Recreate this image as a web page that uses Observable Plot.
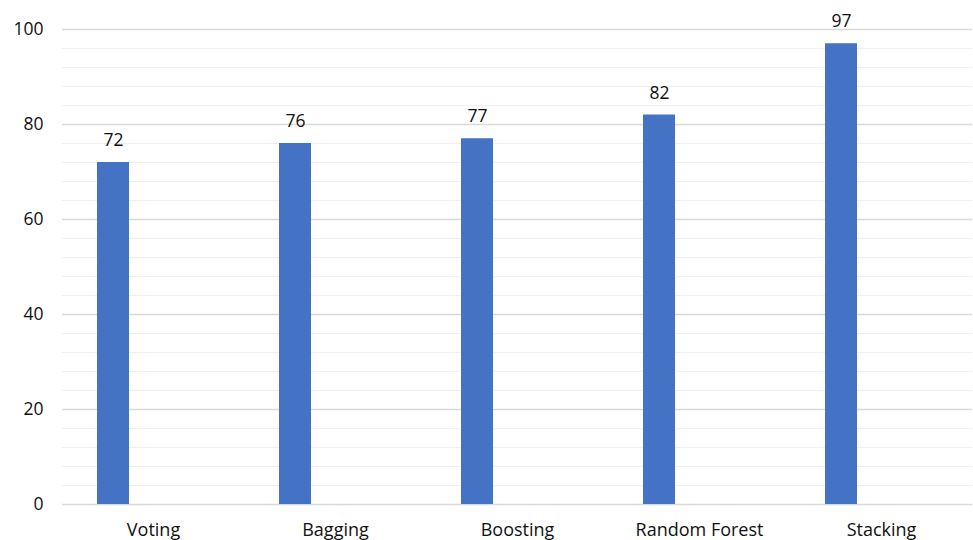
<!DOCTYPE html>
<html>
<head>
<meta charset="utf-8">
<script src="https://cdn.jsdelivr.net/npm/d3@7"></script>
<script src="https://cdn.jsdelivr.net/npm/@observablehq/plot@0.6"></script>
<style>
  html, body { margin: 0; padding: 0; background: #fff; }
  #chart svg { display: block; }
</style>
</head>
<body>
<div id="chart"></div>
<script>
const categories = ["Voting", "Bagging", "Boosting", "Random Forest", "Stacking"];
const values = [72, 76, 77, 82, 97];
const majorTicks = [0, 20, 40, 60, 80, 100];
const minorTicks = [4, 8, 12, 16, 24, 28, 32, 36, 44, 48, 52, 56, 64, 68, 72, 76, 84, 88, 92, 96];

const data = categories.map((c, i) => ({ category: c, value: values[i] }));

const chart = Plot.plot({
  width: 973,
  height: 540,
  marginLeft: 62,
  marginRight: 1,
  marginTop: 29,
  marginBottom: 36,
  style: { fontFamily: "'Open Sans', 'Noto Sans', sans-serif", fontSize: "16px", color: "#111", background: "#fff" },
  x: { domain: categories, padding: 0, label: null },
  y: { domain: [0, 100], label: null },
  marks: [
    Plot.ruleY(minorTicks, { stroke: "#efefef", strokeWidth: 1.2 }),
    Plot.ruleY(majorTicks, { stroke: "#d9d9d9", strokeWidth: 1.5 }),
    Plot.barY(data, { x: "category", y: "value", fill: "#4472C4", insetLeft: 35, insetRight: 115 }),
    Plot.text(data, { x: "category", y: "value", text: d => String(d.value), dx: -40, dy: -22, fontSize: 17.5, fill: "#111" }),
    Plot.axisY({ ticks: majorTicks, tickSize: 0, tickPadding: 19, fontSize: 17.5, fill: "#111", label: null }),
    Plot.axisX({ tickSize: 0, tickPadding: 19, fontSize: 18, fill: "#111", label: null })
  ]
});
document.getElementById("chart").appendChild(chart);
</script>
</body>
</html>
